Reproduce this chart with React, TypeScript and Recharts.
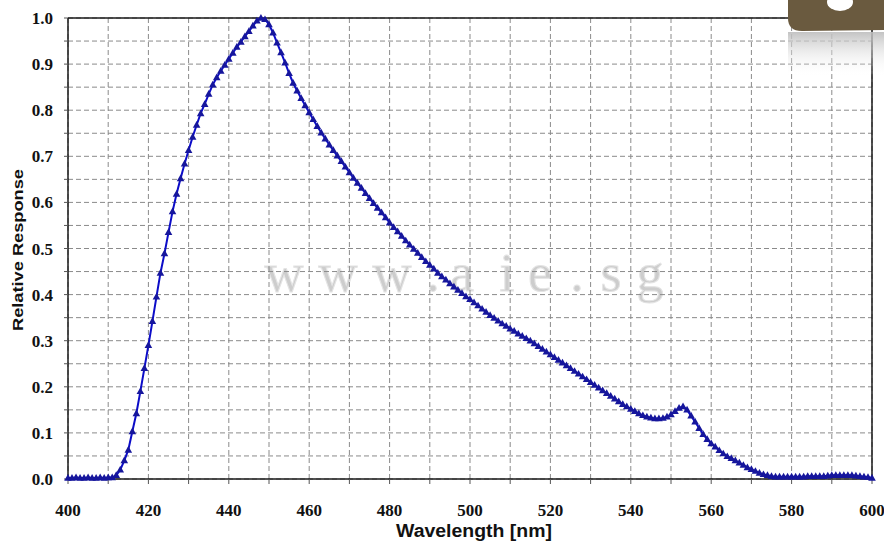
import React from 'react';
import { LineChart, Line, XAxis, YAxis, CartesianGrid, ReferenceLine } from 'recharts';

// relative response, one value per nm from 400 to 600
const response = [
  0.002, 0.002, 0.003, 0.002, 0.002, 0.003, 0.002, 0.002, 0.003, 0.002, // 400
  0.003, 0.003, 0.008, 0.02, 0.04, 0.063, 0.103, 0.142, 0.19, 0.24, // 410
  0.29, 0.342, 0.395, 0.447, 0.489, 0.535, 0.58, 0.618, 0.652, 0.684, // 420
  0.713, 0.742, 0.768, 0.793, 0.813, 0.835, 0.855, 0.871, 0.885, 0.898, // 430
  0.911, 0.924, 0.937, 0.948, 0.96, 0.971, 0.983, 0.994, 1.0, 0.997, // 440
  0.986, 0.968, 0.946, 0.925, 0.903, 0.88, 0.859, 0.842, 0.826, 0.81, // 450
  0.795, 0.78, 0.765, 0.751, 0.738, 0.725, 0.713, 0.701, 0.689, 0.677, // 460
  0.665, 0.653, 0.642, 0.631, 0.62, 0.609, 0.598, 0.588, 0.578, 0.567, // 470
  0.556, 0.546, 0.537, 0.527, 0.517, 0.508, 0.499, 0.49, 0.481, 0.472, // 480
  0.464, 0.456, 0.447, 0.439, 0.432, 0.424, 0.417, 0.41, 0.403, 0.396, // 490
  0.39, 0.383, 0.376, 0.369, 0.362, 0.355, 0.349, 0.343, 0.337, 0.332, // 500
  0.326, 0.321, 0.315, 0.31, 0.305, 0.3, 0.294, 0.288, 0.282, 0.276, // 510
  0.27, 0.264, 0.258, 0.252, 0.246, 0.24, 0.234, 0.228, 0.222, 0.216, // 520
  0.21, 0.204, 0.198, 0.192, 0.186, 0.18, 0.174, 0.168, 0.162, 0.157, // 530
  0.152, 0.147, 0.142, 0.138, 0.135, 0.133, 0.131, 0.131, 0.132, 0.135, // 540
  0.14, 0.147, 0.154, 0.157, 0.15, 0.137, 0.124, 0.11, 0.097, 0.086, // 550
  0.077, 0.07, 0.062, 0.055, 0.049, 0.045, 0.04, 0.035, 0.03, 0.025, // 560
  0.021, 0.017, 0.013, 0.01, 0.008, 0.006, 0.005, 0.005, 0.005, 0.005, // 570
  0.005, 0.005, 0.005, 0.005, 0.006, 0.006, 0.006, 0.006, 0.006, 0.007, // 580
  0.008, 0.008, 0.008, 0.008, 0.008, 0.008, 0.007, 0.006, 0.005, 0.004, // 590
  0.002, // 600
];
const startNm = 400;

const xTicks = [400, 410, 420, 430, 440, 450, 460, 470, 480, 490, 500, 510, 520, 530, 540, 550, 560, 570, 580, 590, 600];
const yTicks = [0, 0.05, 0.1, 0.15, 0.2, 0.25, 0.3, 0.35, 0.4, 0.45, 0.5, 0.55, 0.6, 0.65, 0.7, 0.75, 0.8, 0.85, 0.9, 0.95, 1];

const data = response.map((r, i) => ({ nm: startNm + i, r }));

// watermark letters and where they sit (px centres)
const markChars = ['w', 'w', 'w', '.', 'a', 'i', 'e', '.', 's', 'g'];
const markX = [284, 338, 392, 433, 462, 507, 540, 577, 611, 650];

const tickFont = { fontFamily: '"Liberation Serif", serif', fontWeight: 700, fontSize: 17, fill: '#111' };

const Triangle = (props: any) => {
  const { cx, cy, index } = props;
  if (cx == null || cy == null) return <g key={`t${index}`} />;
  return (
    <path
      key={`t${index}`}
      d={`M${cx},${cy - 4} L${cx + 3.8},${cy + 2.7} L${cx - 3.8},${cy + 2.7} Z`}
      fill="#16169c"
      stroke="none"
    />
  );
};

const App = () => {
  return (
    <div style={{ position: 'absolute', left: 0, top: 0, width: 884, height: 544, background: '#fff' }}>
      {/* watermark, behind the chart */}
      <svg width={884} height={544} style={{ position: 'absolute', left: 0, top: 0 }}>
        {markChars.map((c, i) => (
          <text
            key={i}
            x={markX[i]}
            y={291}
            textAnchor="middle"
            fontFamily='"Liberation Serif", serif'
            fontSize={54}
            fill="#cdcdcd"
            stroke="#e4e4e4"
            strokeWidth={1}
          >
            {c}
          </text>
        ))}
      </svg>

      <div style={{ position: 'absolute', left: 0, top: 0 }}>
        <LineChart width={884} height={544} data={data} margin={{ top: 18, right: 12, bottom: 0, left: 0 }}>
          <CartesianGrid stroke="#8a8a8a" strokeDasharray="5 3" strokeWidth={1} />
          <XAxis
            dataKey="nm"
            type="number"
            domain={[400, 600]}
            ticks={xTicks}
            tickFormatter={(v: number) => (v % 20 === 0 ? String(v) : '')}
            height={65}
            tickSize={5}
            tickMargin={20}
            tick={tickFont}
            axisLine={{ stroke: '#1a1a1a', strokeWidth: 1.5 }}
            tickLine={{ stroke: '#555' }}
            interval={0}
          />
          <YAxis
            type="number"
            domain={[0, 1]}
            ticks={yTicks}
            tickFormatter={(v: number) => (Math.round(v * 100) % 10 === 0 ? v.toFixed(1) : '')}
            width={68}
            tickSize={4}
            tickMargin={11}
            tick={tickFont}
            axisLine={{ stroke: '#1a1a1a', strokeWidth: 1.5 }}
            tickLine={{ stroke: '#555' }}
            interval={0}
          />
          <ReferenceLine y={1} stroke="#1a1a1a" strokeWidth={1.5} ifOverflow="extendDomain" />
          <ReferenceLine x={600} stroke="#1a1a1a" strokeWidth={1.5} ifOverflow="extendDomain" />
          <Line
            type="linear"
            dataKey="r"
            stroke="#0c0cc8"
            strokeWidth={2}
            dot={Triangle}
            activeDot={false}
            isAnimationActive={false}
          />
        </LineChart>
      </div>

      {/* titles and logo */}
      <svg width={884} height={544} style={{ position: 'absolute', left: 0, top: 0, pointerEvents: 'none' }}>
        <defs>
          <linearGradient id="refl" x1="0" y1="0" x2="0" y2="1">
            <stop offset="0%" stopColor="#bdbdbd" stopOpacity={0.9} />
            <stop offset="100%" stopColor="#ffffff" stopOpacity={0} />
          </linearGradient>
        </defs>
        <text
          x={474}
          y={537}
          textAnchor="middle"
          fontFamily='"Liberation Sans", Arial, sans-serif'
          fontWeight={700}
          fontSize={18}
          textLength={156}
          lengthAdjust="spacingAndGlyphs"
          fill="#111"
        >
          Wavelength [nm]
        </text>
        <text
          transform="translate(23,250) rotate(-90)"
          textAnchor="middle"
          fontFamily='"Liberation Sans", Arial, sans-serif'
          fontWeight={700}
          fontSize={15}
          textLength={162}
          lengthAdjust="spacingAndGlyphs"
          fill="#111"
        >
          Relative Response
        </text>
        {/* logo corner */}
        <rect x={788} y={32} width={96} height={45} fill="url(#refl)" />
        <path d="M788,0 L884,0 L884,30 L802,31 Q788,31 788,18 Z" fill="#6a5a3f" />
        <ellipse cx={840} cy={2} rx={13} ry={9} fill="#ffffff" />
      </svg>
    </div>
  );
};

export default App;
